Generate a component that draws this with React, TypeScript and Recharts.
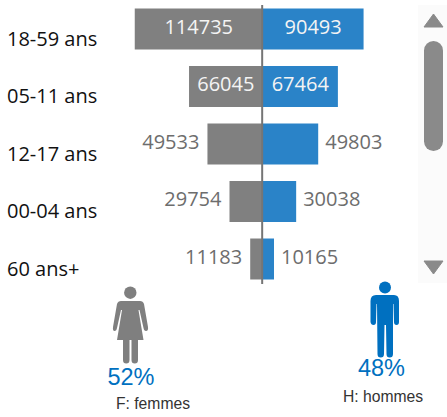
import { Bar, BarChart, LabelList, ReferenceLine, XAxis, YAxis } from "recharts";

const categories = ["18-59 ans", "05-11 ans", "12-17 ans", "00-04 ans", "60 ans+"];
const femmes = [114735, 66045, 49533, 29754, 11183];
const hommes = [90493, 67464, 49803, 30038, 10165];

const data = categories.map((age, i) => ({ age, femmes: -femmes[i], hommes: hommes[i] }));

const FONT = "'Open Sans', sans-serif";
const GREY = "#808080";
const BLUE = "#2a83c8";
const ICON_BLUE = "#0070c0";
const ARIAL = "'Liberation Sans', Arial, sans-serif";

function AgeTick(props: any) {
  return (
    <text x={7} y={props.y + 17} fontFamily={FONT} fontSize={20} fill="#111">
      {props.payload.value}
    </text>
  );
}

function ValueLabel(props: any) {
  const { x, y, width, height, value, side } = props;
  const n = Math.abs(Number(value));
  const w = Math.abs(width);
  const left = Math.min(x, x + width);
  const inside = n > 60000;
  let tx = left + w / 2;
  let anchor = "middle";
  if (!inside) {
    tx = side === "f" ? left - 8 : left + w + 7;
    anchor = side === "f" ? "end" : "start";
  }
  return (
    <text
      x={tx}
      y={y + height / 2 + 4.5}
      textAnchor={anchor as any}
      fontFamily={FONT}
      fontSize={20}
      fill={inside ? "#f4f4f4" : "#6d6d6d"}
    >
      {n}
    </text>
  );
}

function CenterLine(props: any) {
  return <line x1={props.x1 - 0.5} x2={props.x2 - 0.5} y1={5} y2={284} stroke="#757575" strokeWidth={2} />;
}

function Overlay() {
  return (
    <svg width={447} height={417} style={{ position: "absolute", left: 0, top: 0 }}>
      {/* scrollbar */}
      <rect x={418} y={5} width={29} height={278} fill="#fbfbfb" />
      <rect x={424} y={41} width={19} height={110} rx={9.5} fill="#8a8a8a" />
      <path d="M433.5 14 L443 27 L424 27 Z" fill="#8a8a8a" stroke="#8a8a8a" strokeLinejoin="round" />
      <path d="M424 261 L443 261 L433.5 274 Z" fill="#8a8a8a" stroke="#8a8a8a" strokeLinejoin="round" />

      {/* femme */}
      <g fill="#7f7f7f">
        <circle cx={130.3} cy={292.7} r={6.2} />
        <path d="M121 301 L140 301 Q143 301 144 304 L148 327 Q148.5 331 146 331 Q144 331 143.5 328 L139.5 310 L138.5 310 L143.5 340 L117 340 L122 310 L121 310 L117 328 Q116.5 331 114.5 331 Q112.5 331 113 327 L117 304 Q118 301 121 301 Z" />
        <path d="M123 339 L129.5 339 L129.5 360 Q129.5 363.5 126.2 363.5 Q123 363.5 123 360 Z" />
        <path d="M131.5 339 L138 339 L138 360 Q138 363.5 134.8 363.5 Q131.5 363.5 131.5 360 Z" />
      </g>

      {/* homme */}
      <g fill={ICON_BLUE}>
        <circle cx={385} cy={287.5} r={6} />
        <path d="M376 295 L394 295 Q399 295 399 301 L399 322 Q399 325 396.5 325 Q394 325 394 322 L393.5 304 L393 304 L393 354 Q393 357.5 389.7 357.5 Q386.5 357.5 386.5 354 L386 325 L384.5 325 L384 354 Q384 357.5 380.7 357.5 Q377.5 357.5 377.5 354 L377 304 L376.5 304 L376 322 Q376 325 373.5 325 Q371 325 370.5 322 L370.5 301 Q370.5 295 376 295 Z" />
      </g>

      <text x={131} y={385} textAnchor="middle" fontFamily={ARIAL} fontSize={23.5} fill={ICON_BLUE}>
        52%
      </text>
      <text x={381.5} y={375.5} textAnchor="middle" fontFamily={ARIAL} fontSize={23.5} fill={ICON_BLUE}>
        48%
      </text>
      <text x={153} y={409} textAnchor="middle" fontFamily={ARIAL} fontSize={15.7} fill="#333">
        F: femmes
      </text>
      <text x={383} y={402} textAnchor="middle" fontFamily={ARIAL} fontSize={15.7} fill="#333">
        H: hommes
      </text>
    </svg>
  );
}

export default function App() {
  return (
    <div style={{ position: "absolute", left: 0, top: 0, width: 447, height: 417, background: "#fff" }}>
      <BarChart
        width={447}
        height={417}
        data={data}
        layout="vertical"
        stackOffset="sign"
        barCategoryGap={8.5}
        margin={{ top: 0, right: 27, bottom: 129.5, left: 0 }}
      >
        <XAxis type="number" hide domain={[-145900, 141100]} allowDataOverflow />
        <YAxis
          type="category"
          dataKey="age"
          width={100}
          axisLine={false}
          tickLine={false}
          interval={0}
          tick={<AgeTick />}
        />
        <Bar dataKey="femmes" stackId="pop" fill={GREY} isAnimationActive={false}>
          <LabelList dataKey="femmes" content={(p: any) => <ValueLabel {...p} side="f" />} />
        </Bar>
        <Bar dataKey="hommes" stackId="pop" fill={BLUE} isAnimationActive={false}>
          <LabelList dataKey="hommes" content={(p: any) => <ValueLabel {...p} side="h" />} />
        </Bar>
        <ReferenceLine x={0} shape={<CenterLine />} />
      </BarChart>
      <Overlay />
    </div>
  );
}
